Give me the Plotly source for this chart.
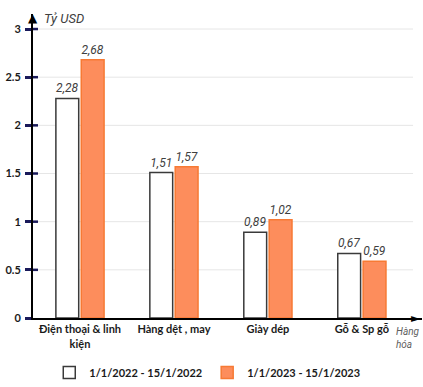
import plotly.graph_objects as go

categories = ["Điện thoại & linh<br>kiện", "Hàng dệt , may", "Giày dép", "Gỗ & Sp gỗ"]
series_names = ["1/1/2022 - 15/1/2022", "1/1/2023 - 15/1/2023"]
values_2022 = [2.28, 1.51, 0.89, 0.67]
values_2023 = [2.68, 1.57, 1.02, 0.59]
y_ticks = [0, 0.5, 1, 1.5, 2, 2.5, 3]
y_tick_labels = ["0", "0.5", "1", "1.5", "2", "2.5", "3"]

X_RANGE = [-0.5, 3.64]
Y_RANGE = [0, 3.156]

def fmt(v):
    return f"{v:.2f}".replace(".", ",")

fig = go.Figure()
fig.add_trace(go.Bar(
    x=categories, y=values_2022, name=series_names[0],
    marker=dict(color="white", line=dict(color="#3a3a3a", width=1.5)),
    text=[fmt(v) for v in values_2022], textposition="outside",
    textfont=dict(family="Roboto", size=12, color="#404040", style="italic"),
    cliponaxis=False,
))
fig.add_trace(go.Bar(
    x=categories, y=values_2023, name=series_names[1],
    marker=dict(color="#FD8D5C", line=dict(color="#F77A34", width=1.5)),
    text=[fmt(v) for v in values_2023], textposition="outside",
    textfont=dict(family="Roboto", size=12, color="#404040", style="italic"),
    cliponaxis=False,
))

W, H = 389.0, 304.0  # plot area size in px
shapes = []
for t in y_ticks[1:]:
    shapes.append(dict(type="line", xref="paper", yref="y", x0=0, x1=0.977, y0=t, y1=t,
                       line=dict(color="#e6e6e6", width=1), layer="below"))
for t in y_ticks[1:]:
    shapes.append(dict(type="line", xref="paper", yref="y", x0=0, x1=5 / W, y0=t, y1=t,
                       line=dict(color="#1a1a5a", width=2.5)))

annotations = [
    dict(xref="paper", yref="paper", x=0, y=1.0, xanchor="center", yanchor="top", yshift=5,
         text="▲", showarrow=False, font=dict(family="DejaVu Sans", size=12, color="black")),
    dict(xref="paper", yref="paper", x=1.0, y=0, xanchor="right", yanchor="middle", xshift=1,
         text="►", showarrow=False, font=dict(family="DejaVu Sans", size=12, color="black")),
    dict(xref="paper", yref="paper", x=0.022, y=1.0, xanchor="left", yanchor="middle", yshift=-4,
         text="Tỷ USD", showarrow=False,
         font=dict(family="Roboto", size=13, color="#404040", style="italic")),
    dict(xref="paper", yref="paper", x=1.0, y=-0.02, xanchor="right", yanchor="top",
         text="Hàng<br>hóa", showarrow=False, align="left",
         font=dict(family="Roboto", size=10, color="#606060", style="italic")),
]

fig.update_layout(
    width=423, height=387,
    margin=dict(l=33, r=1, t=14, b=69),
    plot_bgcolor="white", paper_bgcolor="white",
    barmode="group", bargap=0.46, bargroupgap=0.1,
    font=dict(family="Lato", color="#1a1a1a"),
    xaxis=dict(range=X_RANGE, showline=True, linecolor="black", linewidth=2,
               showgrid=False, ticks="", tickangle=0,
               tickfont=dict(family="Lato", size=11, weight="bold", color="#1a1a1a")),
    yaxis=dict(range=Y_RANGE, showline=True, linecolor="black", linewidth=2,
               showgrid=False, zeroline=False, ticks="outside", ticklen=6, tickwidth=2.5,
               tickcolor="#1a1a5a", tickvals=y_ticks, ticktext=y_tick_labels,
               ticklabelstandoff=2,
               tickfont=dict(family="Lato", size=11, weight="bold", color="#1a1a1a")),
    shapes=shapes, annotations=annotations,
    legend=dict(orientation="h", xref="container", yref="container", x=0.49, xanchor="center",
                y=-0.02, yanchor="bottom", itemwidth=30, tracegroupgap=0,
                font=dict(family="Lato", size=11, weight="bold", color="#1a1a1a")),
    showlegend=True,
)

fig.write_html("out.html")
